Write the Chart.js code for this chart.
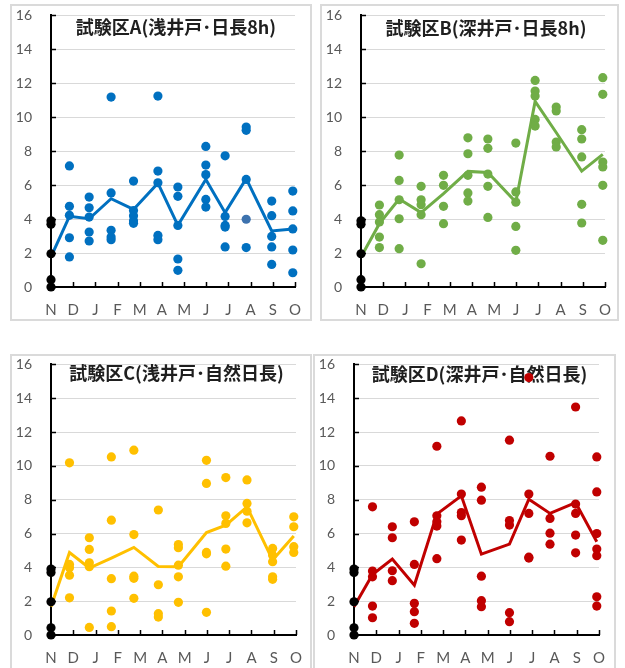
<!DOCTYPE html>
<html>
<head>
<meta charset="utf-8">
<script src="https://cdn.jsdelivr.net/npm/chart.js@4"></script>
<style>
  body { margin: 0; background: #fff; width: 625px; height: 668px; overflow: hidden; position: relative; }
  canvas { position: absolute; z-index: 2; }
  .frame { position: absolute; box-sizing: border-box; border: 2px solid #dadada; pointer-events: none; z-index: 1; }
</style>
</head>
<body>
<div class="frame" id="fA"></div>
<div class="frame" id="fB"></div>
<div class="frame" id="fC"></div>
<div class="frame" id="fD"></div>
<canvas id="cA"></canvas>
<canvas id="cB"></canvas>
<canvas id="cC"></canvas>
<canvas id="cD"></canvas>
<script>
// month tick labels (Nov -> Oct) and where each sampling date falls on that axis
const months = ['N', 'D', 'J', 'F', 'M', 'A', 'M', 'J', 'J', 'A', 'S', 'O'];
const samplePos = [0, 0.83, 1.72, 2.71, 3.72, 4.82, 5.72, 6.98, 7.85, 8.8, 9.95, 10.9];

// starting values (black dots at N), shared by all plots
const startValues = [0, 0.43, 1.96, 3.7, 3.9];

// individual values per sampling date, D..O
const dotsA = [
  [7.13, 4.75, 4.22, 2.9, 1.77],
  [5.3, 4.67, 4.12, 3.24, 2.71],
  [11.19, 5.54, 3.34, 2.94, 2.79],
  [6.24, 4.5, 4.2, 3.9, 3.75],
  [11.25, 6.83, 6.14, 3.04, 2.79],
  [5.89, 5.34, 3.63, 1.65, 0.98],
  [8.28, 7.18, 6.62, 5.16, 4.71],
  [7.73, 4.16, 3.63, 3.53, 2.36],
  [9.42, 9.23, 6.34, 2.32],
  [5.06, 4.2, 2.98, 2.36, 1.33],
  [5.65, 4.48, 3.42, 2.18, 0.84]
];
const darkDotA = [3.99]; // the darker point at A (Aug)
const lineA = [1.77, 4.16, 4.02, 5.2, 4.57, 6.12, 3.63, 6.34, 4.38, 6.38, 3.3, 3.42];

const dotsB = [
  [4.83, 4.26, 3.83, 2.94, 2.32],
  [7.77, 6.28, 5.14, 4.02, 2.26],
  [5.93, 5.14, 4.85, 4.26, 1.37],
  [6.58, 5.99, 4.75, 3.73],
  [8.79, 7.85, 6.58, 5.54, 5.06],
  [8.72, 8.17, 6.65, 5.93, 4.1],
  [8.48, 5.6, 5.0, 3.57, 2.16],
  [12.17, 11.54, 11.25, 9.87, 9.48],
  [10.6, 10.37, 8.54, 8.25],
  [9.27, 8.72, 7.66, 4.87, 3.77],
  [12.33, 11.35, 7.36, 7.07, 5.99, 2.75]
];
const lineB = [1.77, 3.73, 5.18, 4.38, 5.5, 6.81, 6.75, 5.0, 10.93, 9.1, 6.83, 7.81];

const dotsC = [
  [10.18, 4.17, 3.98, 3.54, 2.2],
  [5.75, 5.06, 4.27, 4.04, 0.45],
  [10.53, 6.79, 3.33, 1.42, 0.49],
  [10.93, 5.94, 3.48, 3.35, 2.17],
  [7.39, 2.97, 1.26, 1.06],
  [5.35, 5.16, 4.13, 3.44, 1.93],
  [10.33, 8.96, 4.88, 4.8, 1.34],
  [9.31, 7.05, 6.6, 5.08, 4.07],
  [9.17, 7.78, 7.32, 6.63],
  [5.12, 4.72, 4.33, 3.44, 3.29],
  [6.99, 6.4, 5.22, 4.88]
];
const lineC = [1.67, 4.88, 3.96, 4.55, 5.18, 4.05, 4.04, 6.06, 6.5, 7.58, 4.43, 5.85];

const dotsD = [
  [7.58, 3.78, 3.44, 1.71, 1.02],
  [6.4, 5.75, 3.8, 3.21],
  [6.69, 4.17, 1.87, 1.38, 0.69],
  [11.16, 7.05, 6.69, 6.44, 4.51],
  [12.66, 8.33, 7.24, 7.05, 5.61],
  [8.74, 7.97, 3.48, 2.03, 1.67],
  [11.52, 6.77, 6.5, 1.32, 0.79],
  [15.22, 8.33, 7.19, 4.6, 4.55],
  [10.57, 6.89, 6.02, 5.37],
  [13.48, 7.74, 7.19, 5.91, 4.86],
  [10.53, 8.46, 6.0, 5.08, 4.69, 2.26, 1.71]
];
const lineD = [1.67, 3.58, 4.49, 2.95, 7.15, 8.23, 4.78, 5.37, 8.03, 7.19, 7.83, 5.51];

const titles = {
  A: '試験区A(浅井戸･日長8h)',
  B: '試験区B(深井戸･日長8h)',
  C: '試験区C(浅井戸･自然日長)',
  D: '試験区D(深井戸･自然日長)'
};

function groupPoints(groups, offset) {
  const pts = [];
  groups.forEach((g, i) => g.forEach(v => pts.push({ x: samplePos[i + offset], y: v })));
  return pts;
}

// title inside the plot + short inward tick marks like the original
const panelExtras = {
  id: 'panelExtras',
  beforeDatasetsDraw(chart, args, opts) {
    const { ctx, chartArea: a } = chart;
    ctx.save();
    ctx.font = 'bold 18px "Noto Sans CJK JP"';
    ctx.fillStyle = '#1f1f1f';
    ctx.textAlign = 'center';
    ctx.textBaseline = 'middle';
    ctx.fillText(opts.text, (a.left + a.right) / 2 + 3, a.top + opts.dy);
    ctx.restore();
  },
  afterDraw(chart) {
    const { ctx, chartArea: a, scales: { x, y } } = chart;
    ctx.save();
    ctx.strokeStyle = '#000';
    ctx.lineWidth = 1.5;
    ctx.beginPath();
    y.ticks.forEach(t => {
      const py = Math.round(y.getPixelForValue(t.value)) + 0.5;
      ctx.moveTo(a.left, py);
      ctx.lineTo(a.left + 5, py);
    });
    x.ticks.forEach(t => {
      const px = Math.round(x.getPixelForValue(t.value)) + 0.5;
      ctx.moveTo(px, a.bottom);
      ctx.lineTo(px, a.bottom - 5);
    });
    ctx.stroke();
    ctx.restore();
  }
};

const Y_AXIS_W = 41, X_AXIS_H = 34, RIGHT_PAD = 15;

function makePanel(key, color, dots, line, plot, frameBox, titleDy, extra) {
  const canvas = document.getElementById('c' + key);
  const frame = document.getElementById('f' + key);
  canvas.width = Math.round(Y_AXIS_W + plot.r - plot.l + RIGHT_PAD);
  canvas.height = Math.round(27.4 + plot.b - plot.t + X_AXIS_H);
  frame.style.left = frameBox.x + 'px'; frame.style.top = frameBox.y + 'px';
  frame.style.width = frameBox.w + 'px'; frame.style.height = frameBox.h + 'px';

  const pointStyle = { pointRadius: 4.6, pointBorderWidth: 0, clip: false };
  const datasets = [
    Object.assign({ data: startValues.map(v => ({ x: 0, y: v })), backgroundColor: '#000', borderColor: '#000' }, pointStyle)
  ];
  if (extra) {
    datasets.push(Object.assign({
      data: extra.values.map(v => ({ x: samplePos[extra.at], y: v })),
      backgroundColor: extra.color, borderColor: extra.color
    }, pointStyle));
  }
  datasets.push(Object.assign({ data: groupPoints(dots, 1), backgroundColor: color, borderColor: color }, pointStyle));
  datasets.push({
    data: line.map((v, i) => ({ x: samplePos[i], y: v })), clip: false,
    showLine: true, borderColor: color, borderWidth: 3, pointRadius: 0, tension: 0
  });

  const chart = new Chart(canvas, {
    type: 'scatter',
    data: { datasets },
    options: {
      responsive: false,
      animation: false,
      devicePixelRatio: 1,
      layout: { padding: { left: 0, top: 0, right: RIGHT_PAD, bottom: 0 } },
      plugins: {
        legend: { display: false },
        tooltip: { enabled: false },
        panelExtras: { text: titles[key], dy: titleDy }
      },
      scales: {
        x: {
          type: 'linear', min: 0, max: 11,
          afterFit: s => { s.height = X_AXIS_H; },
          grid: { display: false },
          border: { color: '#000', width: 2 },
          ticks: {
            stepSize: 1, padding: 6, color: '#595959',
            font: { family: 'Lato', size: 15 },
            maxRotation: 0, autoSkip: false,
            callback: v => months[v]
          }
        },
        y: {
          min: 0, max: 16,
          afterFit: s => { s.width = Y_AXIS_W; },
          grid: { color: '#d9d9d9', lineWidth: 1, drawTicks: false },
          border: { color: '#000', width: 2 },
          ticks: {
            stepSize: 2, padding: 19, color: '#595959',
            font: { family: 'Lato', size: 14 }
          }
        }
      }
    },
    plugins: [panelExtras]
  });
  canvas.style.left = (plot.l - chart.chartArea.left) + 'px';
  canvas.style.top = (plot.t - chart.chartArea.top) + 'px';
}

makePanel('A', '#0070C0', dotsA, lineA,
  { l: 50.7, t: 15, r: 295, b: 287 }, { x: 10, y: 4, w: 302, h: 317 }, 12,
  { values: darkDotA, at: 9, color: '#3D72AE' });
makePanel('B', '#70AD47', dotsB, lineB,
  { l: 361, t: 15, r: 605, b: 287 }, { x: 320, y: 4, w: 299, h: 317 }, 13);
makePanel('C', '#FFC000', dotsC, lineC,
  { l: 50.7, t: 364, r: 296, b: 635 }, { x: 10, y: 354, w: 302, h: 330 }, 9);
makePanel('D', '#C00000', dotsD, lineD,
  { l: 354.3, t: 364, r: 599, b: 635 }, { x: 313, y: 354, w: 303, h: 330 }, 9.5);
</script>
</body>
</html>
